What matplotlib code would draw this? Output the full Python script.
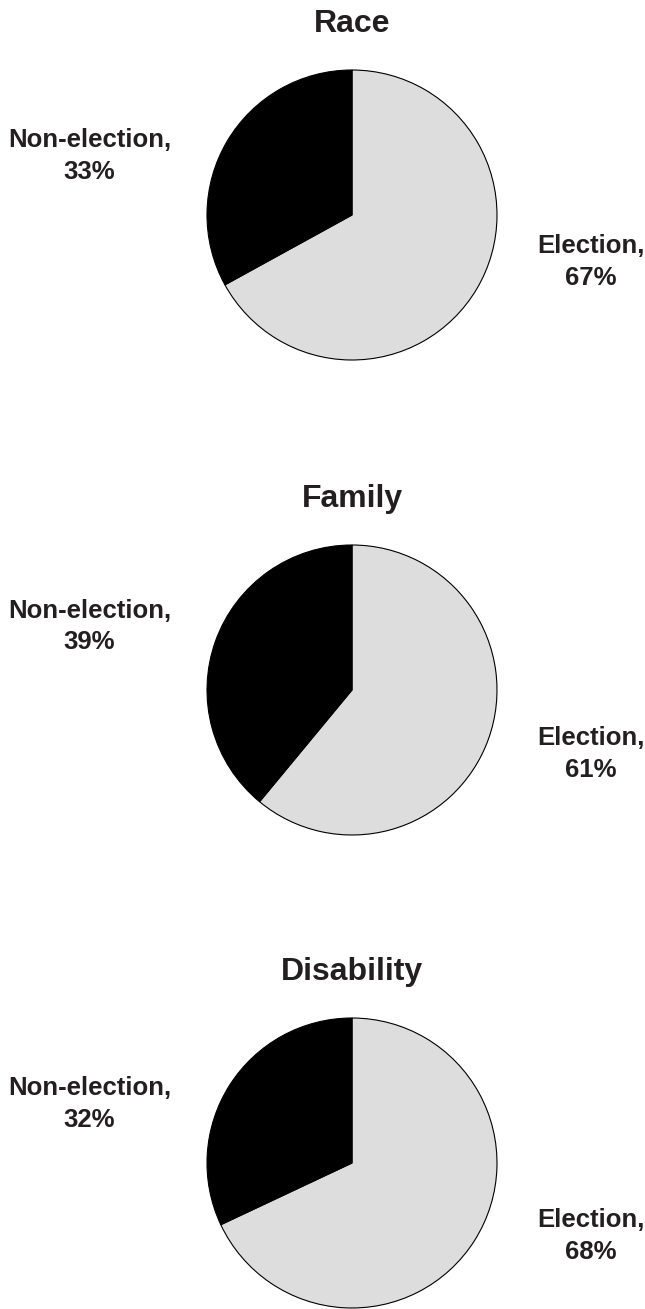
import matplotlib
matplotlib.use("Agg")
import matplotlib.pyplot as plt

plt.rcParams['font.family'] = ['Liberation Sans', 'DejaVu Sans']

# data
titles = ["Race", "Family", "Disability"]
labels = ["Election", "Non-election"]
election = [67, 61, 68]
non_election = [33, 39, 32]

colors = ["#dddddd", "#000000"]

W, H = 645, 1309
fig = plt.figure(figsize=(W / 100, H / 100), dpi=100)

# pie centres (px) and radius
centres_y = [215, 690, 1163]
cx = 352
r = 145
# label spots (last-line baseline) relative to centre, in radius units
lab_pos = [
    [(1.65, -0.48), (-1.81, 0.25)],
    [(1.65, -0.60), (-1.81, 0.28)],
    [(1.65, -0.66), (-1.81, 0.25)],
]

for i, title in enumerate(titles):
    cy = centres_y[i]
    ax = fig.add_axes([(cx - r) / W, 1 - (cy + r) / H, 2 * r / W, 2 * r / H])
    vals = [election[i], non_election[i]]
    ax.pie(vals, colors=colors, startangle=90, counterclock=False,
           wedgeprops=dict(edgecolor="black", linewidth=0.8))
    ax.set_xlim(-1, 1)
    ax.set_ylim(-1, 1)
    ax.set_aspect("equal")
    ax.axis("off")
    ax.text(0, 1.26, title, ha="center", va="baseline", fontsize=23,
            fontweight="bold", color="#231f20", clip_on=False)
    for j, lab in enumerate(labels):
        x, y = lab_pos[i][j]
        ax.text(x, y, f"{lab},\n{vals[j]}%", ha="center", va="baseline",
                fontsize=18.5, fontweight="bold", color="#231f20",
                linespacing=1.4, clip_on=False)

plt.savefig("out.png", dpi=100)
